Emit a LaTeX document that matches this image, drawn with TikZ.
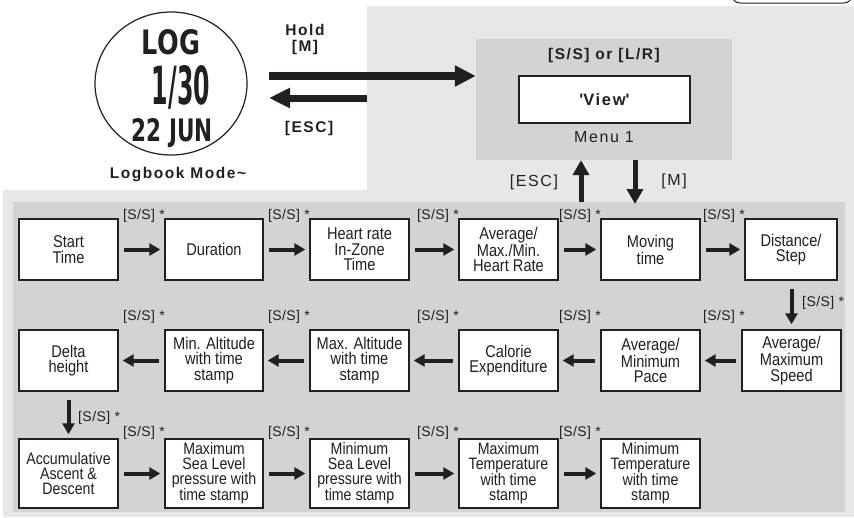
\documentclass[tikz,border=0pt]{standalone}
\usepackage{graphicx}
\usepackage{fontspec}
\setmainfont{Liberation Sans}
\newfontfamily\cond{Liberation Sans}[FakeStretch=0.86]
\newfontfamily\spaced{Liberation Sans}[LetterSpace=10]
\newfontfamily\lcdfont{DejaVu Sans}
\usetikzlibrary{arrows.meta,shapes.geometric}
\definecolor{bgl}{HTML}{E6E7E8}
\definecolor{bgd}{HTML}{D1D3D4}
\definecolor{ink}{HTML}{231F20}
\begin{document}
\begin{tikzpicture}[x=1pt,y=-1pt,
  stage/.style={draw=ink, line width=1.4pt, fill=white, minimum width=99pt, minimum height=61pt,
    inner sep=0pt, align=center, font=\cond\fontsize{17}{15.6}\selectfont, text=ink},
  tall/.style={minimum height=69pt, font=\cond\fontsize{16.5}{15}\selectfont},
  flow/.style={draw=ink, line width=4pt, -{Triangle[length=11pt,width=12pt]}, shorten <=5pt, shorten >=4pt},
  big/.style={draw=ink, line width=8pt, -{Triangle[length=21pt,width=20pt]}},
  mid/.style={draw=ink, line width=5pt, -{Triangle[length=15pt,width=16pt]}},
  sslabel/.style={anchor=base east, inner sep=0pt, font=\spaced\fontsize{14}{14}\selectfont\addfontfeature{LetterSpace=3}, text=ink},
  boldlab/.style={inner sep=0pt, font=\spaced\bfseries\fontsize{15.5}{15.5}\selectfont, text=ink},
  reglab/.style={inner sep=0pt, font=\spaced\fontsize{16}{16}\selectfont, text=ink},
  lcd/.style={inner sep=0pt, text=ink, font=\lcdfont\bfseries}
]
\useasboundingbox (0,0) rectangle (854,517);
% backgrounds
\fill[bgl] (367,6) -- (854,6) -- (854,517) -- (3,517) -- (3,190) -- (367,190) -- cycle;
\fill[bgd] (13,202) rectangle (845,512);
\draw[ink, line width=1pt, rounded corners=8pt] (732,-20) rectangle (852,3);

% watch display
\node[draw=ink, line width=1.2pt, ellipse, minimum width=152pt, minimum height=143pt, inner sep=0pt] (watch) at (171,83.5) {};
\node[lcd] (lg) at (171,42.5) {\resizebox{58pt}{25pt}{LOG}};
\node[lcd] (dt) at (181,87.5) {\resizebox{58pt}{39pt}{1/30}};
\node[lcd] (dy) at (172.5,133.5) {\resizebox{81pt}{23pt}{22 JUN}};
\node[boldlab] (mode) at (178,175) {Logbook Mode\textasciitilde};

% menu
\node[fill=bgd, minimum width=256pt, minimum height=121pt, inner sep=0pt] (menu) at (604,99.5) {};
\node[boldlab] (mtitle) at (604,55) {[S/S] or [L/R]};
\node[draw=ink, line width=1.4pt, fill=white, minimum width=171pt, minimum height=47pt, inner sep=0pt,
  font=\spaced\bfseries\fontsize{16.5}{16.5}\selectfont, text=ink] (view) at (604.5,99.5) {\textquotesingle View\textquotesingle};
\node[reglab] (m1) at (604,137) {Menu 1};

% hold / esc arrows
\coordinate (h1) at (269,76);
\draw[big] (h1) -- (menu.west |- h1);
\node[boldlab] (hold) at (305,30) {Hold};
\node[boldlab] (holdm) at (305,47) {[M]};
\coordinate (e1) at (367,98);
\coordinate (e2) at (269,98);
\draw[big, line width=7pt, -{Triangle[length=21pt,width=19pt]}] (e1) -- (e2);
\node[boldlab] (esc1) at (309,128) {[ESC]};

% menu up/down arrows
\coordinate (u0) at (581,202);
\draw[mid] (u0) -- (u0 |- menu.south);
\coordinate (d1) at (635,204);
\draw[mid] (menu.south -| d1) -- (d1);
\node[reglab] (esc2) at (534,182) {[ESC]};
\node[reglab] (mm) at (674,181) {[M]};

% row 1
\node[stage] (st) at (68.5,249.5) {Start\\Time};
\node[stage, minimum width=98pt] (du) at (214,249.5) {Duration};
\node[stage] (hr) at (359.5,249.5) {Heart rate\\In-Zone\\Time};
\node[stage] (ahr) at (508.5,249.5) {Average/\\Max./Min.\\Heart Rate};
\node[stage] (mv) at (650.5,249.5) {Moving\\time};
\node[stage, minimum width=92pt] (ds) at (791,249.5) {Distance/\\Step};
% row 2
\node[stage] (dh) at (68.5,360.5) {Delta\\height};
\node[stage, minimum width=98pt] (mina) at (214,360.5) {Min. Altitude\\with time\\stamp};
\node[stage] (maxa) at (359.5,360.5) {Max. Altitude\\with time\\stamp};
\node[stage] (cal) at (508.5,360.5) {Calorie\\Expenditure};
\node[stage] (pace) at (650.5,360.5) {Average/\\Minimum\\Pace};
\node[stage] (spd) at (791.5,360.5) {Average/\\Maximum\\Speed};
% row 3
\node[stage, tall] (acc) at (68.5,473.5) {Accumulative\\Ascent \&\\Descent};
\node[stage, tall, minimum width=98pt] (maxp) at (214,473.5) {Maximum\\Sea Level\\pressure with\\time stamp};
\node[stage, tall] (minp) at (359.5,473.5) {Minimum\\Sea Level\\pressure with\\time stamp};
\node[stage, tall] (maxt) at (508.5,473.5) {Maximum\\Temperature\\with time\\stamp};
\node[stage, tall] (mint) at (650.5,473.5) {Minimum\\Temperature\\with time\\stamp};

% connectors
\draw[flow] (st) -- (du);
\draw[flow] (du) -- (hr);
\draw[flow] (hr) -- (ahr);
\draw[flow] (ahr) -- (mv);
\draw[flow] (mv) -- (ds);
\draw[flow, shorten <=8pt, shorten >=5pt] (ds.south -| spd.north) -- (spd.north);
\draw[flow] (spd) -- (pace);
\draw[flow] (pace) -- (cal);
\draw[flow] (cal) -- (maxa);
\draw[flow] (maxa) -- (mina);
\draw[flow] (mina) -- (dh);
\draw[flow, shorten <=8pt, shorten >=4pt] (dh) -- (acc);
\draw[flow] (acc) -- (maxp);
\draw[flow] (maxp) -- (minp);
\draw[flow] (minp) -- (maxt);
\draw[flow] (maxt) -- (mint);

% [S/S] * labels
\foreach \xx/\nm in {165/a,310/b,459/c,601/d,745/e}{
  \node[sslabel] (r1\nm) at (\xx,219) {[S/S] *};
  \node[sslabel] (r2\nm) at (\xx,320) {[S/S] *};
}
\foreach \xx/\nm in {165/a,310/b,459/c,601/d}{
  \node[sslabel] (r3\nm) at (\xx,436) {[S/S] *};
}
\node[sslabel, anchor=base west] (v1) at (802,306) {[S/S] *};
\node[sslabel, anchor=base west] (v2) at (78,421) {[S/S] *};
\end{tikzpicture}
\end{document}
